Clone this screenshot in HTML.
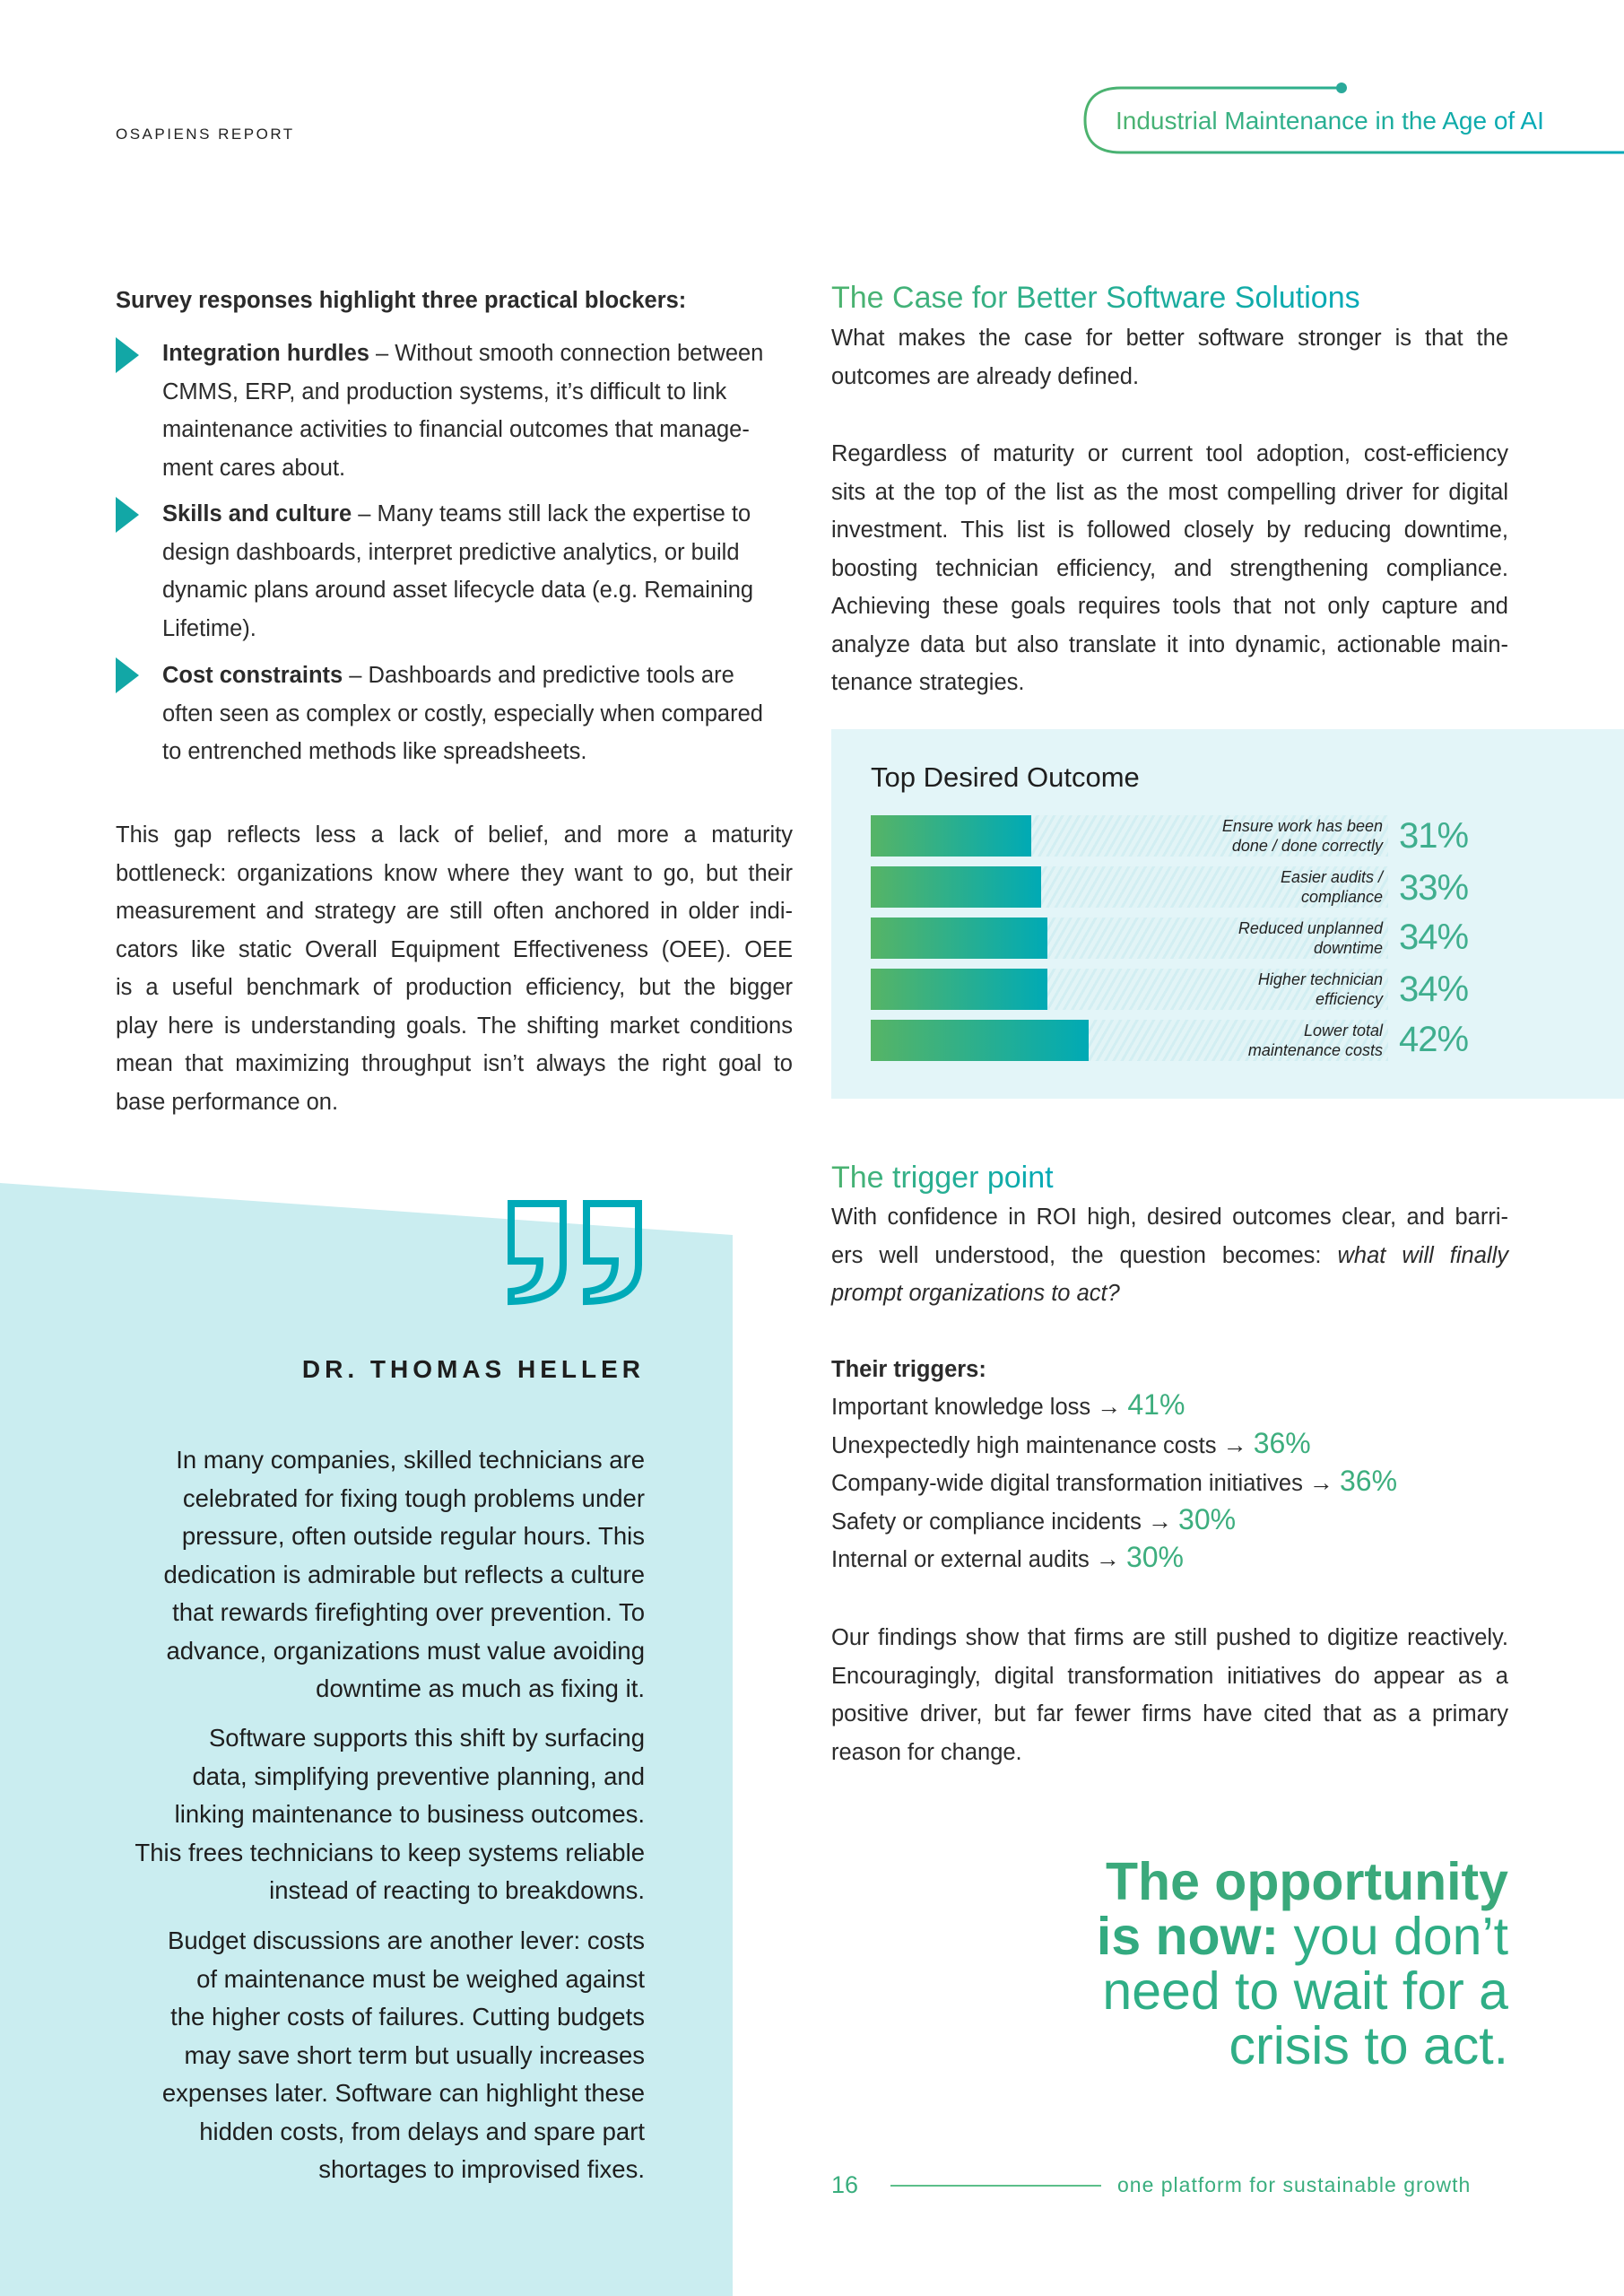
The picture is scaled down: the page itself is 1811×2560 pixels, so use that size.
<!DOCTYPE html>
<html><head><meta charset="utf-8"><style>
*{margin:0;padding:0;box-sizing:border-box}
body{width:1811px;height:2560px;position:relative;background:#fff;font-family:"Liberation Sans",sans-serif;color:#2b2b2b;overflow:hidden}
.a{position:absolute}
.t{font-size:25.5px;line-height:42.5px;white-space:nowrap}
.j span{display:block;text-align:justify;text-align-last:justify}
.j span.l{text-align-last:left}
.g{background:linear-gradient(90deg,#4db36e,#00a9b8);-webkit-background-clip:text;background-clip:text;color:transparent}
.r{text-align:right}
.bul{position:absolute;width:0;height:0;border-top:20px solid transparent;border-bottom:20px solid transparent;border-left:26px solid #12a7a6}
.row{position:absolute;left:971px;width:577px;height:46px;background:repeating-linear-gradient(120deg,#d2eef2 0 3px,#e2f4f6 3px 8px)}
.fill{position:absolute;left:0;top:0;height:46px;background:linear-gradient(90deg,#56b466,#00aab5)}
.lab{position:absolute;right:6px;top:1px;font-size:18px;line-height:22px;font-style:italic;text-align:right;color:#222}
.pc{position:absolute;left:1560px;font-size:40px;color:#3fae8e;letter-spacing:-1px}
.q{font-size:27.5px;line-height:42.5px;text-align:right;position:absolute;right:1092px;white-space:nowrap;color:#1e1e1e}
.tl div{height:42.5px;line-height:42.5px}
.gp{color:#3dae7e;font-size:32px;line-height:1}
.ar{font-weight:bold;font-size:27px;line-height:1}
</style></head><body>

<div class="a" style="left:129px;top:140px;font-size:17px;letter-spacing:2.5px;color:#222">OSAPIENS REPORT</div>
<svg class="a" style="left:1200px;top:90px" width="611" height="90">
<defs><linearGradient id="hg" x1="0" x2="1"><stop offset="0" stop-color="#4db36e"/><stop offset="1" stop-color="#00a9b8"/></linearGradient></defs>
<path d="M296,8 H50 C22,8 10,22 10,44 C10,66 22,80 50,80 H611" fill="none" stroke="url(#hg)" stroke-width="3"/>
<circle cx="296" cy="8" r="6" fill="#2aa99a"/>
</svg>
<div class="a g" style="left:1244px;top:117px;font-size:28px;line-height:36px;font-weight:500">Industrial Maintenance in the Age of AI</div>

<!-- left column -->
<div class="a t" style="left:129px;top:314px;font-weight:bold">Survey responses highlight three practical blockers:</div>
<div class="bul" style="left:129px;top:376px"></div>
<div class="a t" style="left:181px;top:373px"><b>Integration hurdles</b> – Without smooth connection between<br>CMMS, ERP, and production systems, it’s difficult to link<br>maintenance activities to financial outcomes that manage-<br>ment cares about.</div>
<div class="bul" style="left:129px;top:554px"></div>
<div class="a t" style="left:181px;top:552px"><b>Skills and culture</b> – Many teams still lack the expertise to<br>design dashboards, interpret predictive analytics, or build<br>dynamic plans around asset lifecycle data (e.g. Remaining<br>Lifetime).</div>
<div class="bul" style="left:129px;top:733px"></div>
<div class="a t" style="left:181px;top:732px"><b>Cost constraints</b> – Dashboards and predictive tools are<br>often seen as complex or costly, especially when compared<br>to entrenched methods like spreadsheets.</div>

<div class="a t j" style="left:129px;top:910px;width:755px">
<span>This gap reflects less a lack of belief, and more a maturity</span>
<span>bottleneck: organizations know where they want to go, but their</span>
<span>measurement and strategy are still often anchored in older indi-</span>
<span>cators like static Overall Equipment Effectiveness (OEE). OEE</span>
<span>is a useful benchmark of production efficiency, but the bigger</span>
<span>play here is understanding goals. The shifting market conditions</span>
<span>mean that maximizing throughput isn’t always the right goal to</span>
<span class="l">base performance on.</span>
</div>

<!-- quote panel -->
<svg class="a" style="left:0;top:1300px" width="820" height="1260">
<polygon points="0,19 817,77 817,1260 0,1260" fill="#caedf0"/>
<g fill="none" stroke="#00aab8" stroke-width="8" stroke-linejoin="miter">
<path d="M570,42 H628 V110 C628,138 610,150 570,151 V140 C592,138 602,128 602,106 H570 Z"/>
<path d="M654,42 H712 V110 C712,138 694,150 654,151 V140 C676,138 686,128 686,106 H654 Z"/>
</g>
</svg>
<div class="a" style="right:1092px;top:1511px;font-size:28px;font-weight:bold;letter-spacing:5px;color:#1e1e1e">DR. THOMAS HELLER</div>
<div class="q" style="top:1607px">In many companies, skilled technicians are<br>celebrated for fixing tough problems under<br>pressure, often outside regular hours. This<br>dedication is admirable but reflects a culture<br>that rewards firefighting over prevention. To<br>advance, organizations must value avoiding<br>downtime as much as fixing it.</div>
<div class="q" style="top:1917px">Software supports this shift by surfacing<br>data, simplifying preventive planning, and<br>linking maintenance to business outcomes.<br>This frees technicians to keep systems reliable<br>instead of reacting to breakdowns.</div>
<div class="q" style="top:2143px">Budget discussions are another lever: costs<br>of maintenance must be weighed against<br>the higher costs of failures. Cutting budgets<br>may save short term but usually increases<br>expenses later. Software can highlight these<br>hidden costs, from delays and spare part<br>shortages to improvised fixes.</div>

<!-- right column -->
<div class="a g" style="left:927px;top:311px;font-size:34px;line-height:42px">The Case for Better Software Solutions</div>
<div class="a t j" style="left:927px;top:356px;width:755px">
<span>What makes the case for better software stronger is that the</span>
<span class="l">outcomes are already defined.</span>
</div>
<div class="a t j" style="left:927px;top:485px;width:755px">
<span>Regardless of maturity or current tool adoption, cost-efficiency</span>
<span>sits at the top of the list as the most compelling driver for digital</span>
<span>investment. This list is followed closely by reducing downtime,</span>
<span>boosting technician efficiency, and strengthening compliance.</span>
<span>Achieving these goals requires tools that not only capture and</span>
<span>analyze data but also translate it into dynamic, actionable main-</span>
<span class="l">tenance strategies.</span>
</div>

<div class="a" style="left:927px;top:813px;width:884px;height:412px;background:#e3f5f8"></div>
<div class="a" style="left:971px;top:849px;font-size:31px;color:#1e1e1e">Top Desired Outcome</div>
<div class="row" style="top:909px"><div class="fill" style="width:179px"></div><div class="lab">Ensure work has been<br>done / done correctly</div></div>
<div class="pc" style="top:910px">31%</div>
<div class="row" style="top:966px"><div class="fill" style="width:190px"></div><div class="lab">Easier audits /<br>compliance</div></div>
<div class="pc" style="top:968px">33%</div>
<div class="row" style="top:1023px"><div class="fill" style="width:197px"></div><div class="lab">Reduced unplanned<br>downtime</div></div>
<div class="pc" style="top:1023px">34%</div>
<div class="row" style="top:1080px"><div class="fill" style="width:197px"></div><div class="lab">Higher technician<br>efficiency</div></div>
<div class="pc" style="top:1081px">34%</div>
<div class="row" style="top:1137px"><div class="fill" style="width:243px"></div><div class="lab">Lower total<br>maintenance costs</div></div>
<div class="pc" style="top:1137px">42%</div>

<div class="a g" style="left:927px;top:1292px;font-size:34px;line-height:42px">The trigger point</div>
<div class="a t j" style="left:927px;top:1336px;width:755px">
<span>With confidence in ROI high, desired outcomes clear, and barri-</span>
<span>ers well understood, the question becomes: <i>what will finally</i></span>
<span class="l"><i>prompt organizations to act?</i></span>
</div>
<div class="a t" style="left:927px;top:1506px;font-weight:bold">Their triggers:</div>
<div class="a t tl" style="left:927px;top:1548px">
<div>Important knowledge loss <span class="ar">→</span> <span class="gp">41%</span></div>
<div>Unexpectedly high maintenance costs <span class="ar">→</span> <span class="gp">36%</span></div>
<div>Company-wide digital transformation initiatives <span class="ar">→</span> <span class="gp">36%</span></div>
<div>Safety or compliance incidents <span class="ar">→</span> <span class="gp">30%</span></div>
<div>Internal or external audits <span class="ar">→</span> <span class="gp">30%</span></div>
</div>
<div class="a t j" style="left:927px;top:1805px;width:755px">
<span>Our findings show that firms are still pushed to digitize reactively.</span>
<span>Encouragingly, digital transformation initiatives do appear as a</span>
<span>positive driver, but far fewer firms have cited that as a primary</span>
<span class="l">reason for change.</span>
</div>

<div class="a r" style="right:129px;top:2068px;font-size:59px;line-height:61px;color:#2fae86;white-space:nowrap">
<b style="color:#3aa97b">The opportunity</b><br><b style="color:#33aa80">is now:</b> you don’t<br>need to wait for a<br>crisis to act.</div>

<div class="a" style="left:927px;top:2421px;font-size:27px;color:#3aae7e">16</div>
<div class="a" style="left:993px;top:2436px;width:235px;height:2px;background:#5cbf8a"></div>
<div class="a" style="left:1246px;top:2423px;font-size:23px;color:#3aae7e;letter-spacing:1px">one platform for sustainable growth</div>
</body></html>
